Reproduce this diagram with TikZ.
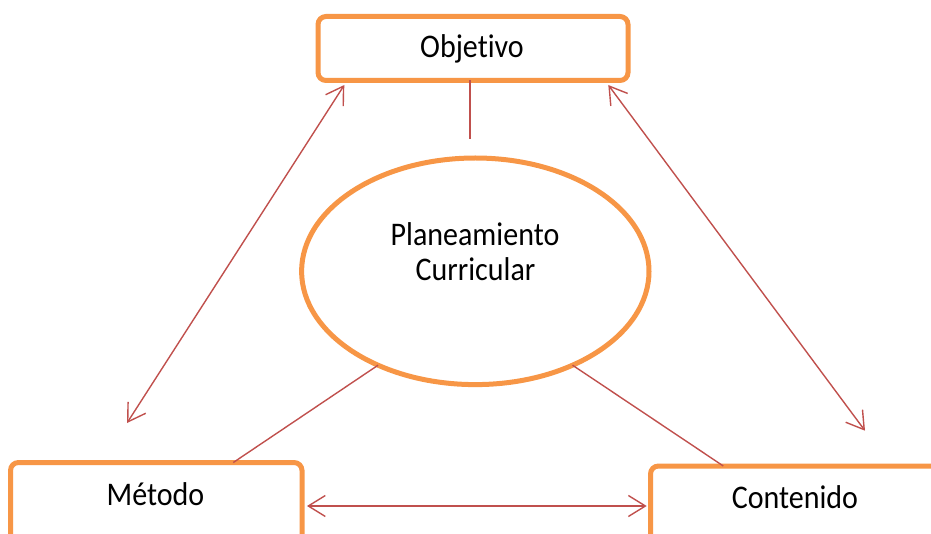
\documentclass[tikz,border=0pt]{standalone}
\usepackage{fontspec}
\setmainfont[Ligatures={NoCommon}]{Carlito}
\usetikzlibrary{shapes.geometric,arrows.meta}
\definecolor{boxorange}{HTML}{F79646}
\definecolor{linkred}{HTML}{C0504D}
\newcommand{\lbltext}[1]{\scalebox{1}[1.1]{#1}}
\tikzset{
  boxnode/.style={draw=boxorange, line width=5pt, rounded corners=8pt, rectangle, inner sep=0pt, outer sep=0pt, fill=white},
  ellnode/.style={draw=boxorange, line width=5pt, ellipse, inner sep=0pt, outer sep=0pt},
  txt/.style={font=\fontsize{30}{36}\selectfont, anchor=base, inner sep=0pt},
  conn/.style={draw=linkred, line width=1.4pt},
  dbl/.style={conn, >={Straight Barb[length=17pt,width=21pt]}, <->}
}
\begin{document}
\begin{tikzpicture}[x=1pt,y=-1pt]
\useasboundingbox (0,0) rectangle (931,534);
\clip (0,0) rectangle (931,534);
% boxes
\node[boxnode, minimum width=310pt, minimum height=64pt] (obj) at (473,48.5) {};
\node[boxnode, minimum width=291.5pt, minimum height=87pt] (met) at (156.25,506) {};
\node[boxnode, minimum width=309.5pt, minimum height=84pt] (con) at (805.25,508) {};
\node[ellnode, minimum width=347.4pt, minimum height=226.6pt] (ell) at (475.3,271.3) {};
% texts
\node[txt] (objt) at (472,58) {\lbltext{Objetivo}};
\node[txt] (pla) at (475,245.7) {\lbltext{Planeamiento}};
\node[txt] (cur) at (475.5,281) {\lbltext{Curricular}};
\node[txt] (mett) at (155.5,505) {\lbltext{Método}};
\node[txt] (cont) at (795,508) {\lbltext{Contenido}};
% coordinates for free ends
\coordinate (t1) at (470,139);
\coordinate (m1) at (233.3,462.5);
\coordinate (c1) at (723.3,465.8);
\coordinate (a1) at (344.3,85);
\coordinate (a2) at (127,423);
\coordinate (b1) at (608.3,85);
\coordinate (b2) at (865,430.7);
\coordinate (h1) at (307,506);
\coordinate (h2) at (646.7,506);
% connectors
\draw[conn] (t1 |- obj.south) -- (t1);
\draw[conn] (ell.224.4) -- (m1 |- met.north);
\draw[conn] (ell.316.7) -- (c1 |- con.north);
\draw[dbl] (a1) -- (a2);
\draw[dbl] (b1) -- (b2);
\draw[dbl] (h1) -- (h2);
\end{tikzpicture}
\end{document}
